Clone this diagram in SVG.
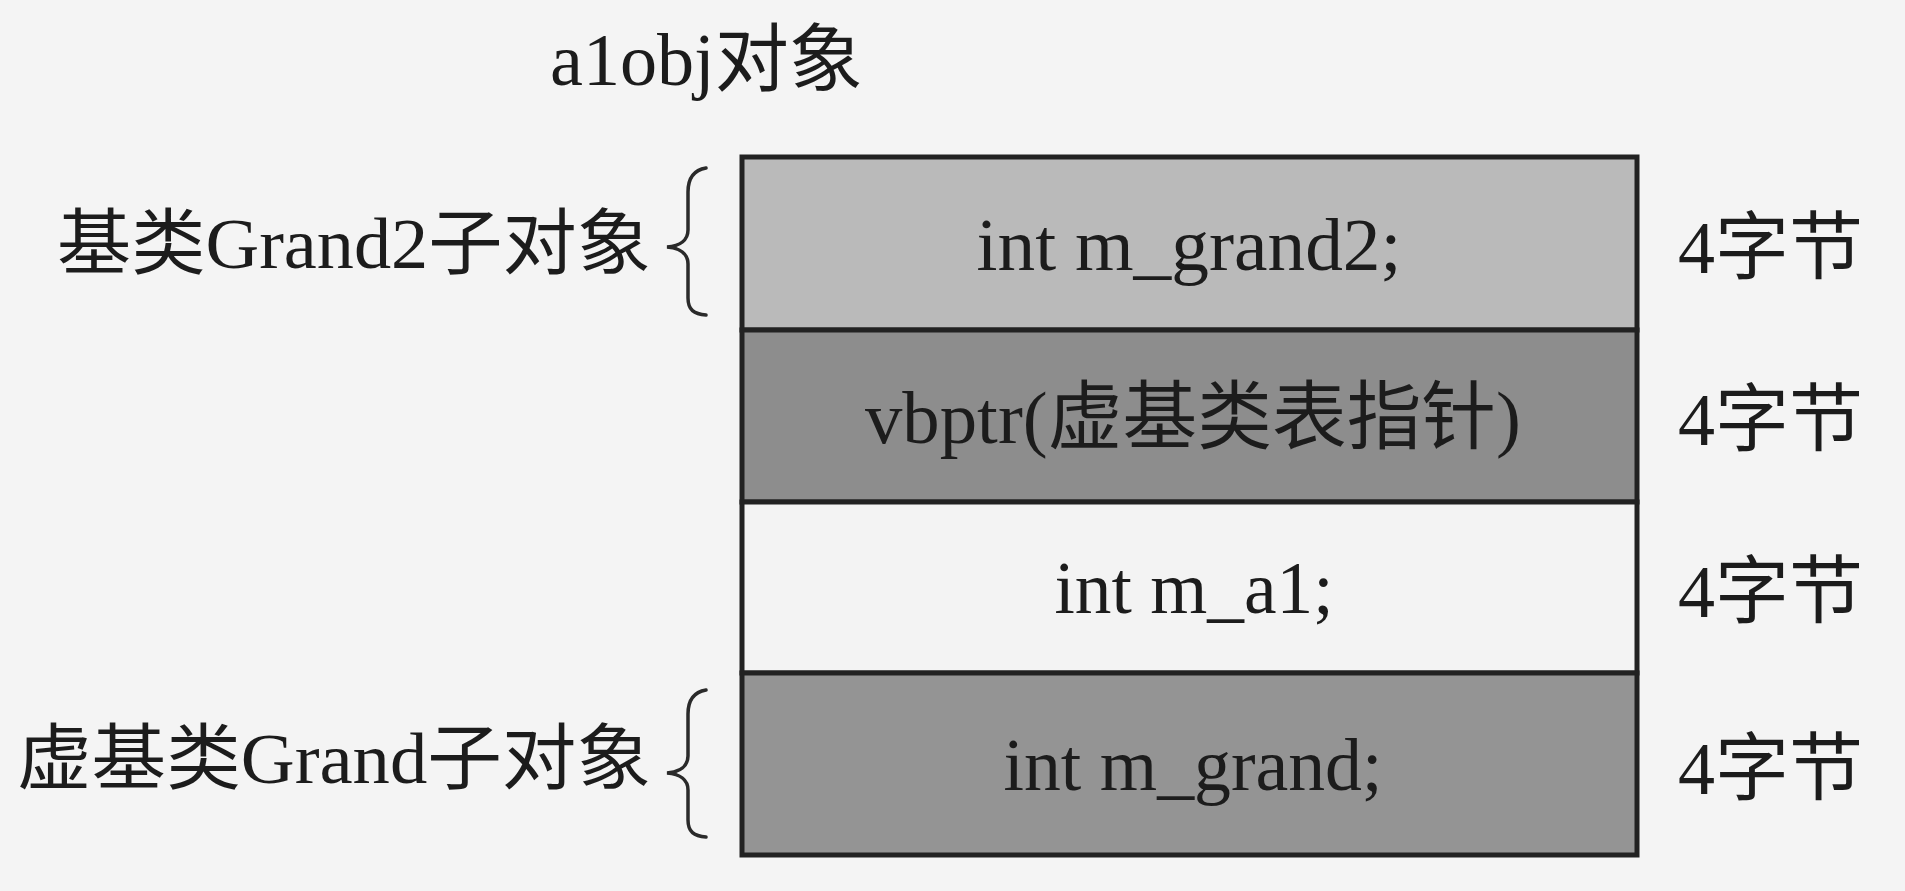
<svg xmlns="http://www.w3.org/2000/svg" width="1905" height="891" viewBox="0 0 1905 891">
<style>
.t{font-family:"Liberation Serif","Noto Sans CJK SC",serif;fill:#1c1c1c}
.cell{stroke:#222;stroke-width:5}
.brace{fill:none;stroke:#2a2a2a;stroke-width:3.5;stroke-linecap:round}
</style>
<rect x="0" y="0" width="1905" height="891" fill="#f4f4f4"/>
<g id="title"><text class="t" x="550" y="85" font-size="74" textLength="313" lengthAdjust="spacingAndGlyphs">a1obj对象</text></g>
<g id="row1">
<rect class="cell" x="742" y="157" width="895" height="173" fill="#bababa"/>
<text class="t" x="1189" y="270" font-size="75" text-anchor="middle" textLength="425" lengthAdjust="spacingAndGlyphs">int m_grand2;</text>
<text class="t" x="1678" y="273" font-size="74" textLength="185" lengthAdjust="spacingAndGlyphs">4字节</text>
</g>
<g id="row2">
<rect class="cell" x="742" y="330" width="895" height="172" fill="#8d8d8d"/>
<text class="t" x="1193" y="443" font-size="75" text-anchor="middle" textLength="656" lengthAdjust="spacingAndGlyphs">vbptr(虚基类表指针)</text>
<text class="t" x="1678" y="445" font-size="74" textLength="185" lengthAdjust="spacingAndGlyphs">4字节</text>
</g>
<g id="row3">
<rect class="cell" x="742" y="502" width="895" height="171" fill="#f3f3f3"/>
<text class="t" x="1194" y="613" font-size="75" text-anchor="middle" textLength="279" lengthAdjust="spacingAndGlyphs">int m_a1;</text>
<text class="t" x="1678" y="617" font-size="74" textLength="185" lengthAdjust="spacingAndGlyphs">4字节</text>
</g>
<g id="row4">
<rect class="cell" x="742" y="673" width="895" height="182" fill="#949494"/>
<text class="t" x="1193" y="790" font-size="75" text-anchor="middle" textLength="379" lengthAdjust="spacingAndGlyphs">int m_grand;</text>
<text class="t" x="1678" y="794" font-size="74" textLength="185" lengthAdjust="spacingAndGlyphs">4字节</text>
</g>
<g id="label-grand2">
<text class="t" x="651" y="268" font-size="72" text-anchor="end" textLength="594" lengthAdjust="spacingAndGlyphs">基类Grand2子对象</text>
</g>
<g id="label-grand">
<text class="t" x="651" y="783" font-size="72" text-anchor="end" textLength="634" lengthAdjust="spacingAndGlyphs">虚基类Grand子对象</text>
</g>
<g id="connectors">
<path class="brace" d="M706,168 C694,170 688,178 688,192 L688,230 C688,240 680,246 667,247 C680,248 688,254 688,264 L688,298 C688,310 694,314 706,315"/>
<path class="brace" d="M706,690 C694,692 688,700 688,714 L688,756 C688,766 680,772 667,773 C680,774 688,780 688,790 L688,820 C688,832 694,836 706,837"/>
</g>
</svg>
